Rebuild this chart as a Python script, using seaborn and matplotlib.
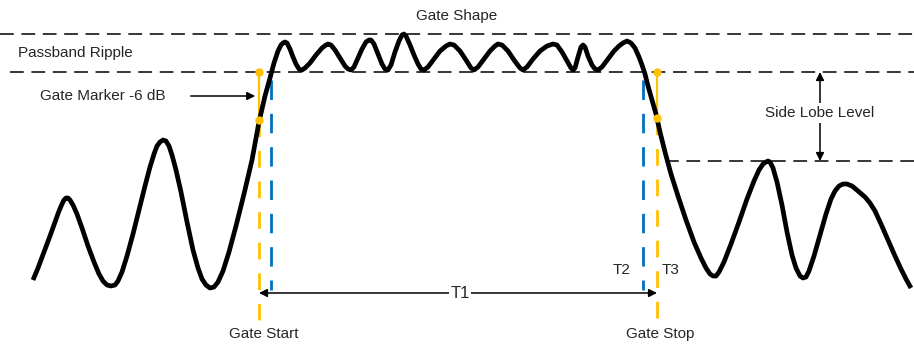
import matplotlib
matplotlib.use("Agg")
import matplotlib.pyplot as plt
import seaborn as sns

# response curve, in picture coordinates (x to the right, y downward)
curve_x = [33, 38, 44, 50, 55, 59, 62, 64, 66, 68, 70, 73, 77, 82, 88, 94, 99, 103, 107, 111,
           115, 118, 122, 127, 133, 139, 145, 150, 154, 157, 160, 163, 166, 169, 172, 176, 181, 187, 193, 198,
           202, 206, 210, 214, 218, 223, 229, 236, 244, 252, 259, 265, 270, 274, 278, 281, 283, 285, 287, 290,
           293, 296, 299, 302, 305, 310, 316, 322, 326, 328, 331, 335, 340, 345, 348, 351, 354, 358, 362, 366,
           369, 371, 374, 378, 382, 385, 388, 391, 395, 399, 402, 404, 406, 410, 414, 418, 421, 424, 428, 434,
           440, 446, 450, 454, 460, 466, 471, 474, 478, 484, 490, 495, 498, 502, 508, 514, 520, 523, 527, 533,
           540, 547, 553, 557, 562, 567, 571, 573, 575, 578, 581, 583, 585, 588, 592, 595, 598, 602, 608, 614,
           619, 623, 627, 631, 635, 639, 642, 645, 648, 652, 656, 660, 665, 671, 678, 686, 694, 701, 706, 710,
           713, 716, 719, 724, 731, 739, 747, 754, 759, 763, 766, 768, 770, 773, 777, 782, 787, 792, 796, 800,
           803, 806, 809, 814, 820, 826, 831, 835, 839, 843, 847, 852, 858, 865, 870, 875, 881, 888, 895, 901,
           906, 911]
curve_y = [280, 268, 252, 236, 222, 211, 204, 200, 198, 198, 200, 205, 214, 228, 246, 262, 274, 281, 285, 286,
           285, 281, 272, 256, 234, 210, 186, 167, 154, 146, 142, 140, 141, 146, 155, 170, 192, 222, 250, 268,
           279, 285, 288, 287, 282, 271, 252, 226, 194, 160, 122, 96, 78, 63, 51, 45, 43, 42, 43, 49,
           57, 64, 69, 70, 68, 63, 55, 48, 45, 44, 45, 50, 58, 66, 69, 70, 67, 58, 49, 42,
           40, 40, 44, 54, 64, 69, 70, 65, 52, 41, 35, 34, 36, 45, 55, 64, 69, 70, 67, 59,
           51, 46, 44, 45, 51, 60, 68, 70, 67, 59, 51, 46, 44, 45, 51, 60, 68, 70, 67, 59,
           51, 46, 44, 45, 52, 61, 68, 70, 68, 57, 47, 45, 47, 56, 65, 69, 70, 67, 59, 51,
           46, 43, 41, 43, 48, 57, 65, 74, 86, 100, 114, 132, 152, 174, 196, 220, 242, 258, 268, 274,
           276, 276, 272, 262, 244, 222, 199, 181, 170, 164, 162, 161, 162, 168, 182, 205, 232, 255, 268, 276,
           278, 277, 271, 256, 235, 214, 199, 191, 186, 184, 184, 186, 191, 197, 203, 211, 224, 240, 256, 269,
           279, 288]

# reference levels
gate_shape_y = 34
ripple_y = 72
side_lobe_y = 161

# gate markers
gate_start_x = 259
gate_stop_x = 657
t2_start_x = 271
t2_stop_x = 643
marker_low_y = [120, 118]

orange = "#FFC000"
blue = "#0070C0"

sns.set_theme(style="white")
plt.rcParams["font.family"] = ["Liberation Sans", "DejaVu Sans"]

fig = plt.figure(figsize=(9.14, 3.45), dpi=100)
ax = fig.add_axes([0, 0, 1, 1])
ax.set_xlim(0, 914)
ax.set_ylim(345, 0)
ax.axis("off")

dash_k = dict(color="black", lw=1.1, dashes=(9, 5))
ax.plot([0, 914], [gate_shape_y, gate_shape_y], **dash_k)
ax.plot([10, 914], [ripple_y, ripple_y], **dash_k)
ax.plot([665, 914], [side_lobe_y, side_lobe_y], **dash_k)

# gate lines
for gx, yl in zip([gate_start_x, gate_stop_x], marker_low_y):
    ax.plot([gx, gx], [yl, 322], color=orange, lw=2, dashes=(6, 5))
    ax.plot([gx, gx], [ripple_y, yl], color=orange, lw=1.6)
for bx in [t2_start_x, t2_stop_x]:
    ax.plot([bx, bx], [80, 290], color=blue, lw=2, dashes=(7, 5))

sns.lineplot(x=curve_x, y=curve_y, sort=False, color="black", lw=3.4, ax=ax,
             solid_joinstyle="round", solid_capstyle="butt")

# marker dots sit on top of the curve
for gx, yl in zip([gate_start_x, gate_stop_x], marker_low_y):
    ax.plot([gx, gx], [ripple_y, yl], "o", color=orange, ms=5, zorder=5)

fs = 11
ax.text(457, 16, "Gate Shape", ha="center", va="center", fontsize=fs)
ax.text(18, 53, "Passband Ripple", ha="left", va="center", fontsize=fs)
ax.text(40, 96, "Gate Marker -6 dB", ha="left", va="center", fontsize=fs)
ax.annotate("", xy=(258, 96), xytext=(188, 96),
            arrowprops=dict(arrowstyle="-|>", color="black", lw=1.1, mutation_scale=12))

ax.annotate("", xy=(820, ripple_y), xytext=(820, side_lobe_y),
            arrowprops=dict(arrowstyle="<|-|>", color="black", lw=1.1, mutation_scale=12,
                            shrinkA=0, shrinkB=0))
ax.text(820, 113, "Side Lobe Level", ha="center", va="center", fontsize=fs,
        bbox=dict(facecolor="white", edgecolor="none", pad=2))

ax.annotate("", xy=(gate_start_x, 293), xytext=(gate_stop_x, 293),
            arrowprops=dict(arrowstyle="<|-|>", color="black", lw=1.1, mutation_scale=12,
                            shrinkA=0, shrinkB=0))
ax.text(460, 293, "T1", ha="center", va="center", fontsize=12,
        bbox=dict(facecolor="white", edgecolor="none", pad=1))
ax.text(622, 270, "T2", ha="center", va="center", fontsize=fs)
ax.text(671, 270, "T3", ha="center", va="center", fontsize=fs)
ax.text(264, 334, "Gate Start", ha="center", va="center", fontsize=fs)
ax.text(660, 334, "Gate Stop", ha="center", va="center", fontsize=fs)

fig.savefig("out.png", dpi=100)
